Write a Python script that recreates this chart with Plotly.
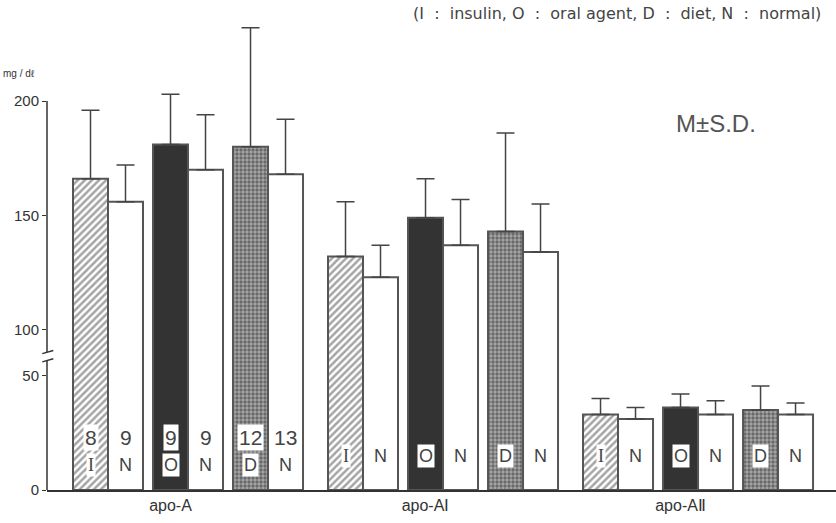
import plotly.graph_objects as go

# ---------------- data ----------------
groups = ["apo-A", "apo-A\u2160", "apo-A\u2161"]
patient_types = ["I", "O", "D"]

# patient (I, O, D) means / SD per apolipoprotein
apoA_patient_mean = [166, 181, 180]
apoA_patient_sd = [30, 22, 52]
apoAI_patient_mean = [132, 149, 143]
apoAI_patient_sd = [24, 17, 43]
apoAII_patient_mean = [33, 36, 35]
apoAII_patient_sd = [7, 6, 10.5]

# matched normal (N) means / SD
apoA_normal_mean = [156, 170, 168]
apoA_normal_sd = [16, 24, 24]
apoAI_normal_mean = [123, 137, 134]
apoAI_normal_sd = [14, 20, 21]
apoAII_normal_mean = [31, 33, 33]
apoAII_normal_sd = [5, 6, 5]

# number of subjects (shown in apo-A bars)
apoA_n_patient = [8, 9, 12]
apoA_n_normal = [9, 9, 13]

ytick_values = [0, 50, 100, 150, 200]

patient_mean = [apoA_patient_mean, apoAI_patient_mean, apoAII_patient_mean]
patient_sd = [apoA_patient_sd, apoAI_patient_sd, apoAII_patient_sd]
normal_mean = [apoA_normal_mean, apoAI_normal_mean, apoAII_normal_mean]
normal_sd = [apoA_normal_sd, apoAI_normal_sd, apoAII_normal_sd]


# broken axis: 50..100 is compressed
def to_axis(v):
    if v <= 50:
        return v
    if v >= 100:
        return v - 30
    return 50 + (v - 50) * 0.4


# layout positions (bar width = 1 unit)
GROUP_STRIDE = 7.286
PAIR_STRIDE = 2.286


def xpos(g, p, b):
    return g * GROUP_STRIDE + p * PAIR_STRIDE + b + 0.5


fig = go.Figure()

line_col = "#555555"
styles = {
    "I": dict(color="white", pattern=dict(shape="/", fgcolor="#4a4a4a", bgcolor="white",
                                          size=5, solidity=0.5)),
    "O": dict(color="#333333"),
    "D": dict(color="#888888", pattern=dict(shape=".", fgcolor="#2a2a2a", bgcolor="#a8a8a8",
                                            size=4, solidity=0.55)),
}

for p, t in enumerate(patient_types):
    xs, ys, err = [], [], []
    for g in range(len(groups)):
        m = patient_mean[g][p]
        s = patient_sd[g][p]
        xs.append(xpos(g, p, 0))
        ys.append(to_axis(m))
        err.append(to_axis(m + s) - to_axis(m))
    fig.add_trace(go.Bar(
        x=xs, y=ys, width=1, name=t,
        marker=dict(line=dict(color=line_col, width=2), **styles[t]),
        error_y=dict(type="data", symmetric=False, array=err, arrayminus=[0] * len(err),
                     color="#444444", thickness=1.5, width=9),
        showlegend=False, hoverinfo="skip",
    ))

xs, ys, err = [], [], []
for g in range(len(groups)):
    for p in range(len(patient_types)):
        m = normal_mean[g][p]
        s = normal_sd[g][p]
        xs.append(xpos(g, p, 1))
        ys.append(to_axis(m))
        err.append(to_axis(m + s) - to_axis(m))
fig.add_trace(go.Bar(
    x=xs, y=ys, width=1, name="N",
    marker=dict(color="white", line=dict(color=line_col, width=2)),
    error_y=dict(type="data", symmetric=False, array=err, arrayminus=[0] * len(err),
                 color="#444444", thickness=1.5, width=9),
    showlegend=False, hoverinfo="skip",
))

# ---------------- in-bar labels ----------------
annotations = []
for g in range(len(groups)):
    for p, t in enumerate(patient_types):
        letter_font = "Liberation Serif" if t == "I" else "Liberation Sans"
        if g == 0:
            annotations.append(dict(x=xpos(g, p, 0), y=23, text=str(apoA_n_patient[p]),
                                    showarrow=False, font=dict(size=21, color="#444"),
                                    bgcolor="white"))
            annotations.append(dict(x=xpos(g, p, 0), y=11, text=t, showarrow=False,
                                    font=dict(size=18, color="#444", family=letter_font),
                                    bgcolor="white"))
            annotations.append(dict(x=xpos(g, p, 1), y=23, text=str(apoA_n_normal[p]),
                                    showarrow=False, font=dict(size=21, color="#444")))
            annotations.append(dict(x=xpos(g, p, 1), y=11, text="N", showarrow=False,
                                    font=dict(size=18, color="#444")))
        else:
            annotations.append(dict(x=xpos(g, p, 0), y=15, text=t, showarrow=False,
                                    font=dict(size=18, color="#444", family=letter_font),
                                    bgcolor="white"))
            annotations.append(dict(x=xpos(g, p, 1), y=15, text="N", showarrow=False,
                                    font=dict(size=18, color="#444")))

nb = "\u00a0"
title_text = (f"(I{nb}{nb}:{nb}{nb}insulin,{nb}O{nb}{nb}:{nb}{nb}oral{nb}agent,{nb}"
              f"D{nb}{nb}:{nb}{nb}diet,{nb}N{nb}{nb}:{nb}{nb}normal)")

annotations += [
    dict(xref="paper", yref="paper", x=0.983, y=1.013, xanchor="right", yanchor="middle",
         text=title_text, showarrow=False,
         font=dict(size=16, color="#444", family="DejaVu Sans")),
    dict(x=xpos(2, 1, 0) + 1.0, y=to_axis(190), text="M±S.D.", showarrow=False,
         font=dict(size=24, color="#555")),
    dict(xref="paper", yref="y", x=-0.035, y=to_axis(212), xanchor="center",
         text="mg / d\u2113", showarrow=False, font=dict(size=10, color="#333")),
]

shapes = [
    # broken y axis line
    dict(type="line", xref="paper", yref="y", x0=0, x1=0, y0=0, y1=56.8,
         line=dict(color="#333", width=1.5), layer="below"),
    dict(type="line", xref="paper", yref="y", x0=0, x1=0, y0=60.3, y1=to_axis(200),
         line=dict(color="#333", width=1.5), layer="below"),
    dict(type="line", xref="paper", yref="y", x0=-0.006, x1=0.008, y0=56.0, y1=57.4,
         line=dict(color="#333", width=1.5), layer="below"),
    dict(type="line", xref="paper", yref="y", x0=-0.006, x1=0.008, y0=59.6, y1=61.0,
         line=dict(color="#333", width=1.5), layer="below"),
]

fig.update_layout(
    width=836, height=523,
    margin=dict(l=47, r=0, t=20, b=33),
    paper_bgcolor="white", plot_bgcolor="white",
    barmode="overlay",
    font=dict(family="Liberation Sans Narrow, Liberation Sans, Arial", color="#333"),
    xaxis=dict(range=[-0.743, 21.8], tickvals=[xpos(g, 1, 0) for g in range(len(groups))],
               ticktext=groups, ticks="", showline=True, linecolor="#333", linewidth=1.5,
               showgrid=False, zeroline=False, tickfont=dict(size=16, family="Liberation Sans")),
    yaxis=dict(range=[0, 205.4], tickvals=[to_axis(v) for v in ytick_values],
               ticktext=[str(v) for v in ytick_values], ticks="outside", ticklen=4,
               tickcolor="#333", showline=False, showgrid=False, zeroline=False,
               tickfont=dict(size=15)),
    annotations=annotations,
    shapes=shapes,
)

fig.write_html("out.html")
